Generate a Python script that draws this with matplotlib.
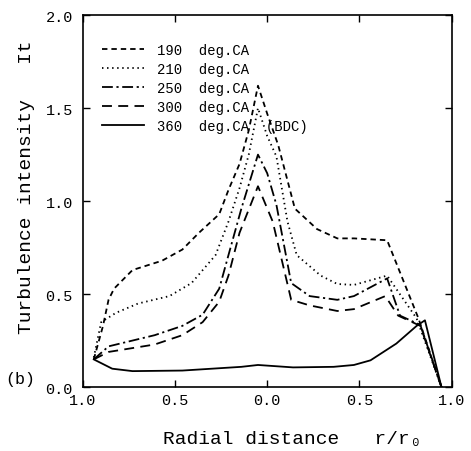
import matplotlib
matplotlib.use("Agg")
import matplotlib.pyplot as plt

# radial position (left side negative) and turbulence intensity, per crank angle
x_190 = [-0.94, -0.89, -0.86, -0.83, -0.73, -0.57, -0.46, -0.37, -0.26, -0.21, -0.15,
         -0.10, -0.05, 0.0, 0.06, 0.15, 0.27, 0.38, 0.47, 0.65, 0.82, 0.945]
y_190 = [0.15, 0.33, 0.47, 0.53, 0.63, 0.68, 0.74, 0.83, 0.93, 1.06, 1.20,
         1.38, 1.62, 1.47, 1.30, 0.96, 0.85, 0.80, 0.80, 0.79, 0.37, 0.0]

x_210 = [-0.94, -0.90, -0.82, -0.70, -0.53, -0.41, -0.28, -0.21, -0.15, -0.10, -0.05,
         0.0, 0.05, 0.11, 0.16, 0.29, 0.38, 0.47, 0.65, 0.81, 0.945]
y_210 = [0.16, 0.35, 0.40, 0.45, 0.49, 0.56, 0.71, 0.89, 1.07, 1.25, 1.50,
         1.35, 1.24, 0.89, 0.71, 0.60, 0.555, 0.55, 0.60, 0.37, 0.0]

x_250 = [-0.94, -0.86, -0.61, -0.46, -0.35, -0.26, -0.21, -0.14, -0.05, 0.0, 0.05,
         0.13, 0.23, 0.38, 0.47, 0.65, 0.72, 0.83, 0.945]
y_250 = [0.15, 0.22, 0.28, 0.33, 0.39, 0.53, 0.71, 0.96, 1.25, 1.15, 0.98,
         0.56, 0.49, 0.47, 0.49, 0.585, 0.385, 0.335, 0.0]

x_300 = [-0.94, -0.86, -0.61, -0.46, -0.35, -0.26, -0.21, -0.15, -0.05, 0.03, 0.13,
         0.23, 0.38, 0.47, 0.64, 0.71, 0.83, 0.945]
y_300 = [0.15, 0.19, 0.23, 0.28, 0.35, 0.46, 0.60, 0.83, 1.08, 0.89, 0.47,
         0.44, 0.41, 0.42, 0.49, 0.385, 0.33, 0.0]

x_360 = [-0.94, -0.84, -0.73, -0.46, -0.14, -0.05, 0.14, 0.36, 0.47, 0.56, 0.70,
         0.81, 0.855, 0.945]
y_360 = [0.15, 0.10, 0.087, 0.09, 0.11, 0.12, 0.107, 0.11, 0.12, 0.145, 0.235,
         0.33, 0.36, 0.0]

labels = ["190  deg.CA", "210  deg.CA", "250  deg.CA", "300  deg.CA",
          "360  deg.CA  (BDC)"]
x_ticks = [-1.0, -0.5, 0.0, 0.5, 1.0]
x_tick_labels = ["1.0", "0.5", "0.0", "0.5", "1.0"]
y_ticks = [0.0, 0.5, 1.0, 1.5, 2.0]
y_tick_labels = ["0.0", "0.5", "1.0", "1.5", "2.0"]

plt.rcParams["font.family"] = ["Liberation Mono", "DejaVu Sans Mono"]

fig = plt.figure(figsize=(4.71, 4.52), dpi=100)
ax = fig.add_axes([0.1756, 0.1409, 0.7834, 0.8237])

lw = 1.3
ax.plot(x_190, y_190, color="black", lw=lw, dashes=(3.0, 2.2), label=labels[0])
ax.plot(x_210, y_210, color="black", lw=lw, dashes=(0.8, 2.0), label=labels[1])
ax.plot(x_250, y_250, color="black", lw=lw, dashes=(6.0, 2.0, 1.2, 2.0), label=labels[2])
ax.plot(x_300, y_300, color="black", lw=lw, dashes=(5.5, 3.5), label=labels[3])
ax.plot(x_360, y_360, color="black", lw=lw, label=labels[4])

ax.set_xlim(-1.0, 1.0)
ax.set_ylim(0.0, 2.0)
ax.set_xticks(x_ticks)
ax.set_xticklabels(x_tick_labels)
ax.set_yticks(y_ticks)
ax.set_yticklabels(y_tick_labels)
ax.tick_params(direction="in", length=5, width=1.0, top=True, right=True,
               labelsize=11)
ax.tick_params(axis="y", pad=7)
ax.tick_params(axis="x", pad=4)
for s in ax.spines.values():
    s.set_linewidth(1.2)

# axis titles placed as figure text to match the scan's offsets
fig.text(27 / 471, 1 - 187 / 452, "Turbulence intensity   It", fontsize=14,
         rotation=90, ha="center", va="center")
fig.text(292 / 471, 1 - 440 / 452, "Radial distance   r/r\u2080", fontsize=14,
         ha="center", va="center")
fig.text(0.012, 1 - 380 / 452, "(b)", fontsize=12, ha="left", va="center")

ax.legend(loc="upper left", bbox_to_anchor=(0.052, 0.925), frameon=False,
          borderaxespad=0, borderpad=0, handlelength=3.0, handletextpad=1.0,
          labelspacing=0.36, prop={"size": 10})

fig.savefig("out.png", dpi=100)
